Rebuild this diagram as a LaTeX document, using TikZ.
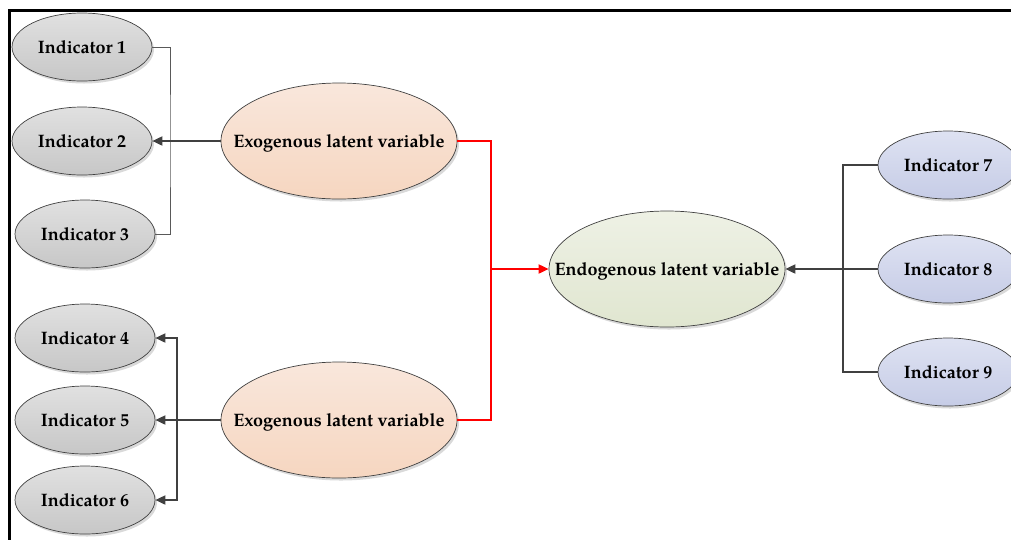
\documentclass[tikz,border=0pt]{standalone}
\usepackage{fontspec}
\setmainfont{TeX Gyre Pagella}
\usetikzlibrary{shapes.geometric,arrows.meta,shadows}
\begin{document}
\begin{tikzpicture}[x=1pt,y=-1pt,
  oval/.style={ellipse, draw=black!75, line width=0.7pt, inner sep=0pt, text depth=0pt,
    font=\fontsize{18}{21}\selectfont\bfseries,
    drop shadow={shadow xshift=2pt, shadow yshift=-2.5pt, opacity=0.25, fill=black!60}},
  indicator/.style={oval, minimum width=140pt, minimum height=68pt,
    top color=black!12, bottom color=black!22},
  blueind/.style={oval, minimum width=140pt, minimum height=68pt,
    top color={rgb,255:red,222;green,226;blue,242}, bottom color={rgb,255:red,198;green,204;blue,230}},
  latent/.style={oval, minimum width=236pt, minimum height=116pt, inner xsep=-50pt},
  exo/.style={latent,
    top color={rgb,255:red,249;green,231;blue,220}, bottom color={rgb,255:red,246;green,214;blue,192}},
  endo/.style={latent,
    top color={rgb,255:red,238;green,241;blue,229}, bottom color={rgb,255:red,224;green,230;blue,208}},
  tip/.style={-{Triangle[length=10pt,width=9pt]}},
  thinlink/.style={draw=black!65, line width=1pt},
  link/.style={draw=black!75, line width=1.8pt},
  redlink/.style={draw=red, line width=1.8pt}
]
\useasboundingbox (0,0) rectangle (1011,539);

% outer frame (only top and left edges visible)
\draw[line width=2.6pt] (9.5,545) -- (9.5,10.3) -- (1020,10.3);

% indicators of the first exogenous variable
\node[indicator] (i1) at (82,47)  {Indicator 1};
\node[indicator] (i2) at (82,141) {Indicator 2};
\node[indicator] (i3) at (85,234) {Indicator 3};
% indicators of the second exogenous variable
\node[indicator] (i4) at (85,338) {Indicator 4};
\node[indicator] (i5) at (85,420) {Indicator 5};
\node[indicator] (i6) at (85,500) {Indicator 6};
% indicators of the endogenous variable
\node[blueind] (i7) at (948,165) {Indicator 7};
\node[blueind] (i8) at (948,269) {Indicator 8};
\node[blueind] (i9) at (948,372) {Indicator 9};

% latent variables
\node[exo]  (ex1) at (339,141) {Exogenous latent variable};
\node[exo]  (ex2) at (339,420) {Exogenous latent variable};
\node[endo] (en)  at (667,269) {Endogenous latent variable};

% junction points
\coordinate (j1) at (170,141);
\coordinate (j2) at (177,420);
\coordinate (j3) at (491,269);
\coordinate (j4) at (843,269);

% first exogenous block
\draw[thinlink] (i1.east) -| (j1) |- (i3.east);
\draw[link,tip] (ex1.west) -- (i2.east);

% second exogenous block
\draw[link,tip] (ex2.west) -- (i5.east);
\draw[link,tip] (j2) |- (i4.east);
\draw[link,tip] (j2) |- (i6.east);

% structural paths
\draw[redlink] (ex1.east) -| (j3) |- (ex2.east);
\draw[redlink,tip] (j3) -- (en.west);

% endogenous block
\draw[link] (i7.west) -| (j4) |- (i9.west);
\draw[link,tip] (i8.west) -- (en.east);
\end{tikzpicture}
\end{document}
